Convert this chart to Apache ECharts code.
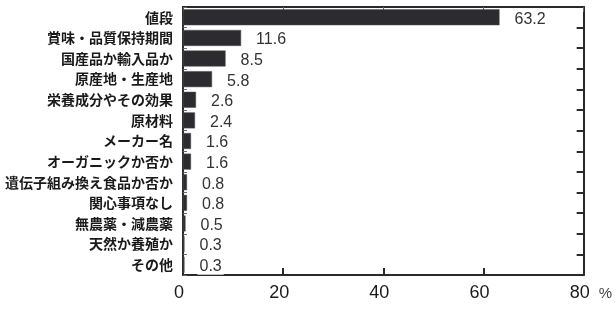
<!DOCTYPE html>
<html><head><meta charset="utf-8">
<script src="https://cdn.jsdelivr.net/npm/echarts@6/dist/echarts.min.js"></script>
<style>html,body{margin:0;padding:0;background:#fff}#c{width:615px;height:314px}</style>
</head><body><div id="c"></div>
<script>
const categories = ['値段','賞味・品質保持期間','国産品か輸入品か','原産地・生産地','栄養成分やその効果','原材料','メーカー名','オーガニックか否か','遺伝子組み換え食品か否か','関心事項なし','無農薬・減農薬','天然か養殖か','その他'];
const values = [63.2, 11.6, 8.5, 5.8, 2.6, 2.4, 1.6, 1.6, 0.8, 0.8, 0.5, 0.3, 0.3];
const xTicks = [0, 20, 40, 60, 80];

const chart = echarts.init(document.getElementById('c'), null, {renderer:'canvas'});
const axisLine = {show:true, onZero:false, lineStyle:{color:'#2a2a2a', width:2}};
chart.setOption({
  animation:false,
  grid:{left:183, right:24, top:7, bottom:39, show:false},
  xAxis:[{
    type:'value', min:xTicks[0], max:xTicks[xTicks.length-1], interval:20,
    axisLine:axisLine, splitLine:{show:false},
    axisTick:{show:true, length:-7, lineStyle:{color:'#2a2a2a', width:2}},
    axisLabel:{fontSize:18, color:'#1a1a1a', margin:9, padding:[0,8,0,0], fontFamily:'Liberation Sans, Arial, sans-serif'},
    name:'%', nameLocation:'end', nameGap:15,
    nameTextStyle:{fontSize:15, color:'#444', verticalAlign:'top', padding:[11,0,0,0]}
  },{
    type:'value', position:'top', min:0, max:80, interval:20, show:true,
    axisLine:axisLine, splitLine:{show:false}, axisLabel:{show:false},
    axisTick:{show:true, length:-5, lineStyle:{color:'#666', width:1}}
  }],
  yAxis:[{
    type:'category', data:categories, inverse:true,
    axisLine:axisLine,
    axisTick:{show:true, length:-4, lineStyle:{color:'#666', width:1}},
    axisLabel:{fontSize:14, fontWeight:'bold', color:'#1a1a1a', margin:10, fontFamily:'Noto Sans CJK JP'}
  },{
    type:'category', data:categories, inverse:true, position:'right', show:true,
    axisLine:axisLine, axisLabel:{show:false},
    axisTick:{show:true, length:-7, lineStyle:{color:'#2a2a2a', width:2}}
  }],
  series:[{
    type:'bar', data:values, barWidth:16, z:3,
    itemStyle:{color:'#2b2b30', borderColor:'#555', borderWidth:0.5},
    label:{show:true, position:'right', distance:13, offset:[0,2], fontSize:16, color:'#333',
      backgroundColor:'#fff', padding:[0,2,0,2],
      fontFamily:'Liberation Sans, Arial, sans-serif',
      formatter:p=>p.value.toFixed(1)}
  }]
});
</script></body></html>
